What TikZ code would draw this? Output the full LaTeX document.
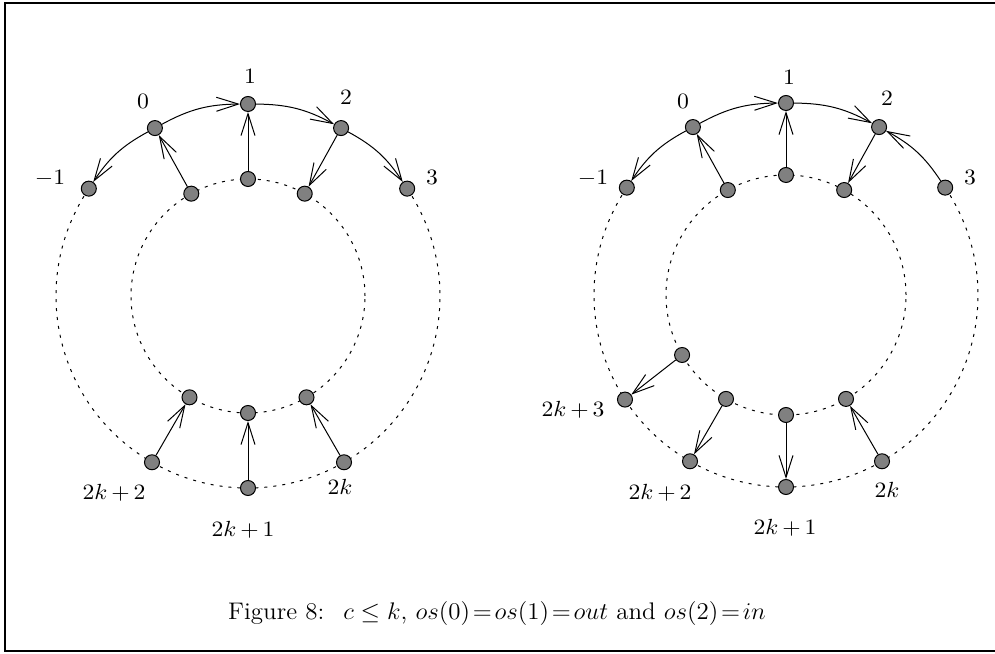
\documentclass[tikz,border=0pt]{standalone}
\usetikzlibrary{arrows.meta}
\definecolor{nodegray}{RGB}{128,128,128}
\tikzset{
 vtx/.style={circle, draw=black, fill=nodegray, line width=0.5pt, minimum size=7.5pt, inner sep=0pt},
 lbl/.style={font=\fontsize{10.5}{12}\selectfont, xscale=1.08, inner sep=0pt},
 conn/.style={line width=0.5pt, -{Straight Barb[length=11pt,width=7pt,line width=0.5pt]}},
 dotc/.style={line width=0.5pt, dash pattern=on 1.5pt off 3pt},
 frame/.style={line width=1.1pt},
}
\newcommand{\pl}{\,{+}\,}
\begin{document}
\begin{tikzpicture}[x=0.5pt,y=0.5pt]
\useasboundingbox (0,0) rectangle (995,653);
\draw[frame] (1000,650) -- (5,650) -- (5,2) -- (1000,2);
% ---------- left diagram ----------
\begin{scope}[shift={(248,357)}]
\draw[dotc] (146:192) arc[start angle=146, end angle=394, radius=192];
\draw[dotc] (0,0) circle[radius=117];
\node[vtx] (Lm1) at (146:192) {};
\node[vtx] (L0) at (119:192) {};
\node[vtx] (L1) at (90:192) {};
\node[vtx] (L2) at (61:192) {};
\node[vtx] (L3) at (34:192) {};
\node[vtx] (Lb2) at (240:192) {};
\node[vtx] (Lb1) at (270:192) {};
\node[vtx] (Lb0) at (300:192) {};
\node[vtx] (Li0) at (119:117) {};
\node[vtx] (Li1) at (90:117) {};
\node[vtx] (Li2) at (61:117) {};
\node[vtx] (Lj2) at (240:117) {};
\node[vtx] (Lj1) at (270:117) {};
\node[vtx] (Lj0) at (300:117) {};
\end{scope}
\draw[conn] (L0) to[bend right=14] (Lm1);
\draw[conn] (L0) to[bend left=14] (L1);
\draw[conn] (L1) to[bend left=14] (L2);
\draw[conn] (L2) to[bend left=14] (L3);
\draw[conn] (Li0) -- (L0);
\draw[conn] (Li1) -- (L1);
\draw[conn] (L2) -- (Li2);
\draw[conn] (Lb2) -- (Lj2);
\draw[conn] (Lb1) -- (Lj1);
\draw[conn] (Lb0) -- (Lj0);
\node[lbl] (tL1) at (250,577) {$1$};
\node[lbl] (tL0) at (143,552) {$0$};
\node[lbl] (tL2) at (346,556) {$2$};
\node[lbl] (tLm1) at (50,475) {$-1$};
\node[lbl] (tL3) at (432,476) {$3$};
\node[lbl] (tLb2) at (114,160) {$2k\pl 2$};
\node[lbl] (tLb1) at (243,123) {$2k\pl 1$};
\node[lbl] (tLb0) at (340,166) {$2k$};
% ---------- right diagram ----------
\begin{scope}[shift={(786,358)}]
\draw[dotc] (146:192) arc[start angle=146, end angle=394, radius=192];
\draw[dotc] (0,0) circle[radius=120];
\node[vtx] (Rm1) at (146:192) {};
\node[vtx] (R0) at (119:192) {};
\node[vtx] (R1) at (90:192) {};
\node[vtx] (R2) at (61:192) {};
\node[vtx] (R3) at (34:192) {};
\node[vtx] (Rb3) at (213:192) {};
\node[vtx] (Rb2) at (240:192) {};
\node[vtx] (Rb1) at (270:192) {};
\node[vtx] (Rb0) at (300:192) {};
\node[vtx] (Ri0) at (119:120) {};
\node[vtx] (Ri1) at (90:120) {};
\node[vtx] (Ri2) at (61:120) {};
\node[vtx] (Rj3) at (210:120) {};
\node[vtx] (Rj2) at (240:120) {};
\node[vtx] (Rj1) at (270:120) {};
\node[vtx] (Rj0) at (300:120) {};
\end{scope}
\draw[conn] (R0) to[bend right=14] (Rm1);
\draw[conn] (R0) to[bend left=14] (R1);
\draw[conn] (R1) to[bend left=14] (R2);
\draw[conn] (R3) to[bend right=14] (R2);
\draw[conn] (Ri0) -- (R0);
\draw[conn] (Ri1) -- (R1);
\draw[conn] (R2) -- (Ri2);
\draw[conn] (Rj3) -- (Rb3);
\draw[conn] (Rj2) -- (Rb2);
\draw[conn] (Rj1) -- (Rb1);
\draw[conn] (Rb0) -- (Rj0);
\node[lbl] (tRm1) at (593,475) {$-1$};
\node[lbl] (tR0) at (683,552) {$0$};
\node[lbl] (tR1) at (789,576) {$1$};
\node[lbl] (tR2) at (887,555) {$2$};
\node[lbl] (tR3) at (970,476) {$3$};
\node[lbl] (tRb3) at (573,243) {$2k\pl 3$};
\node[lbl] (tRb2) at (660,160) {$2k\pl 2$};
\node[lbl] (tRb1) at (785,125) {$2k\pl 1$};
\node[lbl] (tRb0) at (887,163) {$2k$};
% ---------- caption ----------
\node[font=\fontsize{12}{14}\selectfont, xscale=1.04, inner sep=0pt] (cap) at (497,40)
  {Figure 8: \ $c\le k$, $os(0)\!=\!os(1)\!=\!out$ and $os(2)\!=\!in$};
\end{tikzpicture}
\end{document}
